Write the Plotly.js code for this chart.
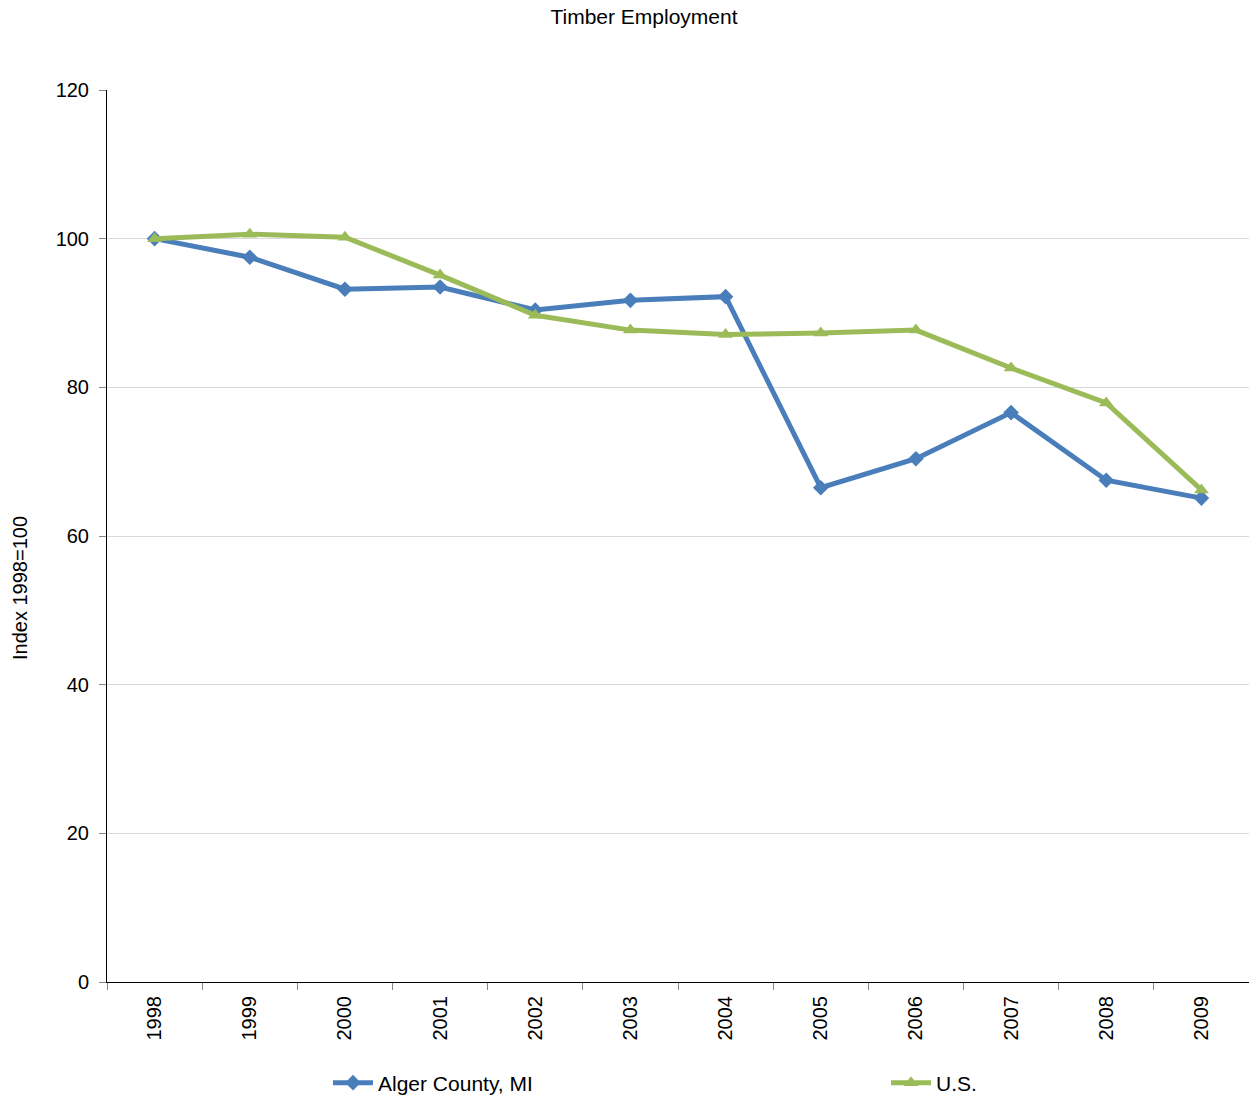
<!DOCTYPE html>
<html>
<head>
<meta charset="utf-8">
<script src="https://cdn.plot.ly/plotly-3.0.1.min.js"></script>
<style>html,body{margin:0;padding:0;background:#fff;}#chart{width:1249px;height:1097px;}</style>
</head>
<body>
<div id="chart"></div>
<script>
const years = ["1998","1999","2000","2001","2002","2003","2004","2005","2006","2007","2008","2009"];
const alger = [100, 97.5, 93.2, 93.5, 90.4, 91.7, 92.2, 66.5, 70.4, 76.6, 67.5, 65.1];
const us = [100, 100.6, 100.2, 95.1, 89.7, 87.7, 87.1, 87.3, 87.7, 82.6, 77.9, 66.2];
const yTicks = [0, 20, 40, 60, 80, 100, 120];

const traces = [
  {x: years, y: alger, name: "Alger County, MI", type: "scatter", mode: "lines+markers",
   line: {color: "#4A7EBB", width: 5}, marker: {symbol: "diamond", size: 12, color: "#4A7EBB"},
   legend: "legend"},
  {x: years, y: us, name: "U.S.", type: "scatter", mode: "lines+markers",
   line: {color: "#9BBB59", width: 5}, marker: {symbol: "triangle-up", size: 13, color: "#9BBB59"},
   legend: "legend2"}
];

const legendCommon = {orientation: "h", xref: "container", yref: "container", xanchor: "left",
  yanchor: "middle", y: (1097 - 1083) / 1097, font: {size: 21}, itemwidth: 40,
  bgcolor: "rgba(0,0,0,0)", borderwidth: 0};

const layout = {
  width: 1249, height: 1097,
  margin: {l: 107, r: 0, t: 90, b: 115, autoexpand: false},
  paper_bgcolor: "#fff", plot_bgcolor: "#fff",
  font: {family: "Liberation Sans, Arial, sans-serif", color: "#000", size: 20},
  title: {text: "Timber Employment", font: {size: 21}, x: 644 / 1249, xref: "container", xanchor: "center",
          y: (1097 - 17) / 1097, yref: "container", yanchor: "middle"},
  showlegend: true,
  legend: Object.assign({}, legendCommon, {x: 328 / 1249}),
  legend2: Object.assign({}, legendCommon, {x: 886 / 1249}),
  xaxis: {type: "category", range: [-0.5, 11.5], tickangle: -90, showline: true, linecolor: "#000", linewidth: 1,
          ticks: "outside", ticklen: 7, tickcolor: "#868686", tickson: "boundaries", ticklabelstandoff: 5,
          showgrid: false, zeroline: false, tickfont: {size: 20}, fixedrange: true, automargin: false},
  yaxis: {range: [0, 120], tickvals: yTicks, ticktext: yTicks.map(String), showline: true,
          linecolor: "#000", linewidth: 1, ticks: "outside", ticklen: 7, tickcolor: "#868686",
          showgrid: true, gridcolor: "#D9D9D9", gridwidth: 1, zeroline: false, ticklabelstandoff: 6,
          tickfont: {size: 20}, automargin: false},
  annotations: [{text: "Index 1998=100", textangle: -90, xref: "paper", yref: "paper",
                 x: (20 - 107) / 1142, y: (982 - 588) / 892, xanchor: "center", yanchor: "middle",
                 showarrow: false, font: {size: 20}}]
};

Plotly.newPlot("chart", traces, layout, {displayModeBar: false, staticPlot: true});
</script>
</body>
</html>
